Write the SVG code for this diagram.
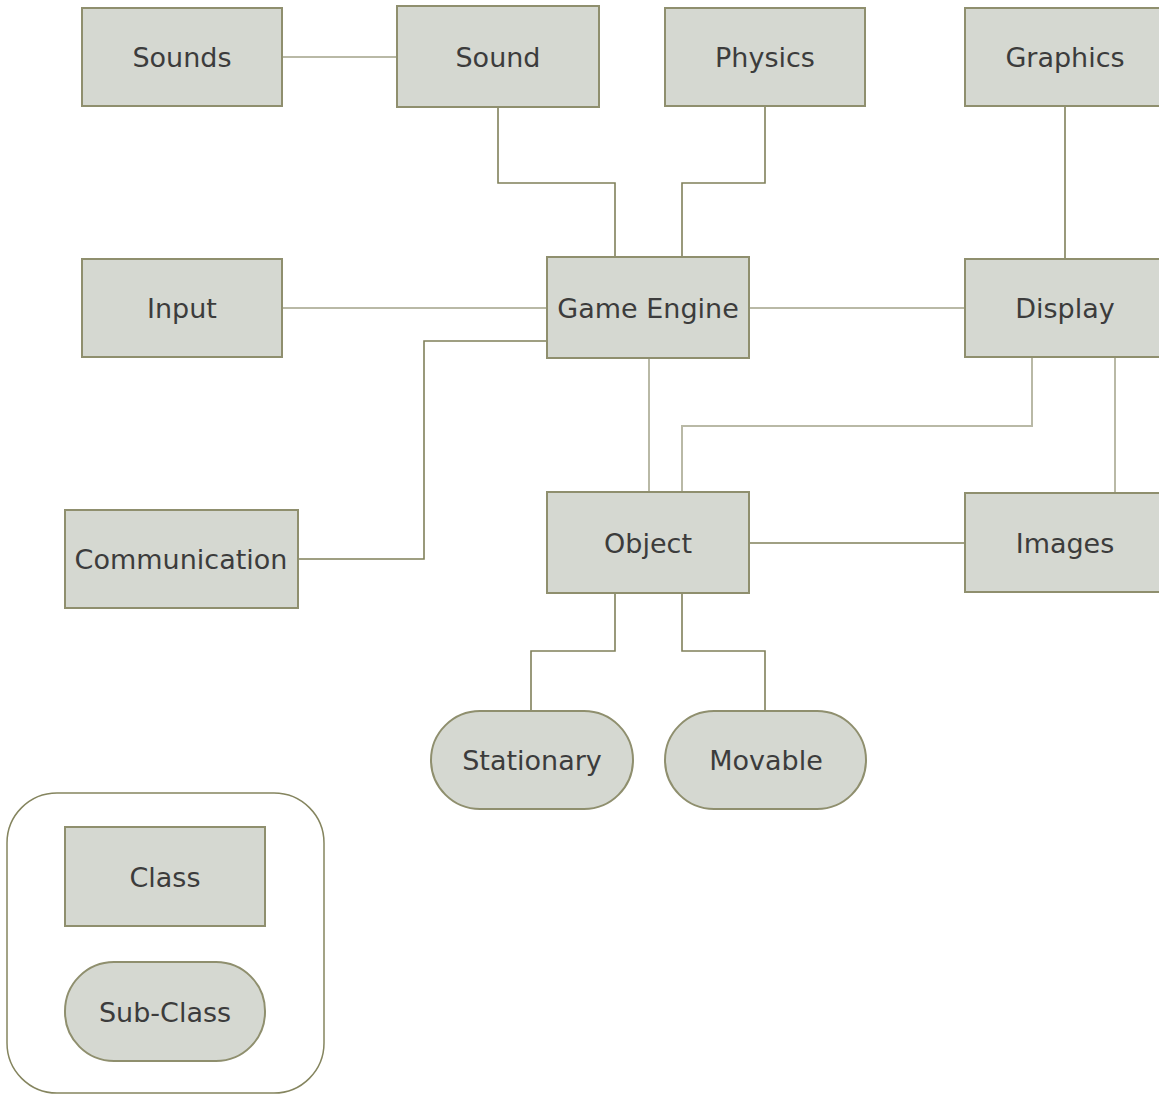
<svg xmlns="http://www.w3.org/2000/svg" width="1159" height="1095" viewBox="0 0 1159 1095">
  <style>
    .box { fill: #d5d8d1; stroke: #8f8f6e; stroke-width: 2; }
    .frame { fill: #ffffff; stroke: #85855f; stroke-width: 1.5; }
    .lbl { font-family: "DejaVu Sans", Verdana, sans-serif; font-size: 27px; fill: #3c3c3c; text-anchor: middle; }
    .lite { fill: none; stroke: #b9b9a6; stroke-width: 2; }
    .dark { fill: none; stroke: #80805a; stroke-width: 1.6; }
  </style>
  <rect width="1159" height="1095" fill="#ffffff"/>

  <!-- connectors -->
  <g id="connectors">
    <path class="lite" d="M282 57 H397"/>
    <path class="dark" d="M498 107 V183 H615 V257"/>
    <path class="dark" d="M765 106 V183 H682 V257"/>
    <path class="dark" d="M1065 106 V259"/>
    <path class="lite" d="M282 308 H547"/>
    <path class="lite" d="M749 308 H965"/>
    <path class="dark" d="M298 559 H424 V341 H547"/>
    <path class="lite" d="M649 358 V492"/>
    <path class="lite" d="M1032 357 V426 H682 V492"/>
    <path class="lite" d="M1115 357 V493"/>
    <path class="dark" d="M749 543 H965"/>
    <path class="dark" d="M615 593 V651 H531 V711"/>
    <path class="dark" d="M682 593 V651 H765 V711"/>
  </g>

  <!-- classes -->
  <g id="sounds"><rect class="box" x="82" y="8" width="200" height="98"/><text class="lbl" x="182" y="67">Sounds</text></g>
  <g id="sound"><rect class="box" x="397" y="6" width="202" height="101"/><text class="lbl" x="498" y="67">Sound</text></g>
  <g id="physics"><rect class="box" x="665" y="8" width="200" height="98"/><text class="lbl" x="765" y="67">Physics</text></g>
  <g id="graphics"><rect class="box" x="965" y="8" width="200" height="98"/><text class="lbl" x="1065" y="67">Graphics</text></g>
  <g id="input"><rect class="box" x="82" y="259" width="200" height="98"/><text class="lbl" x="182" y="318">Input</text></g>
  <g id="game-engine"><rect class="box" x="547" y="257" width="202" height="101"/><text class="lbl" x="648" y="318">Game Engine</text></g>
  <g id="display"><rect class="box" x="965" y="259" width="200" height="98"/><text class="lbl" x="1065" y="318">Display</text></g>
  <g id="communication"><rect class="box" x="65" y="510" width="233" height="98"/><text class="lbl" x="181" y="569">Communication</text></g>
  <g id="object"><rect class="box" x="547" y="492" width="202" height="101"/><text class="lbl" x="648" y="553">Object</text></g>
  <g id="images"><rect class="box" x="965" y="493" width="200" height="99"/><text class="lbl" x="1065" y="553">Images</text></g>

  <!-- sub-classes -->
  <g id="stationary"><rect class="box" x="431" y="711" width="202" height="98" rx="49"/><text class="lbl" x="532" y="770">Stationary</text></g>
  <g id="movable"><rect class="box" x="665" y="711" width="201" height="98" rx="49"/><text class="lbl" x="766" y="770">Movable</text></g>

  <!-- key -->
  <g id="legend">
    <rect class="frame" x="7" y="793" width="317" height="300" rx="50"/>
    <g id="legend-class"><rect class="box" x="65" y="827" width="200" height="99"/><text class="lbl" x="165" y="887">Class</text></g>
    <g id="legend-subclass"><rect class="box" x="65" y="962" width="200" height="99" rx="49"/><text class="lbl" x="165" y="1022">Sub-Class</text></g>
  </g>
</svg>
